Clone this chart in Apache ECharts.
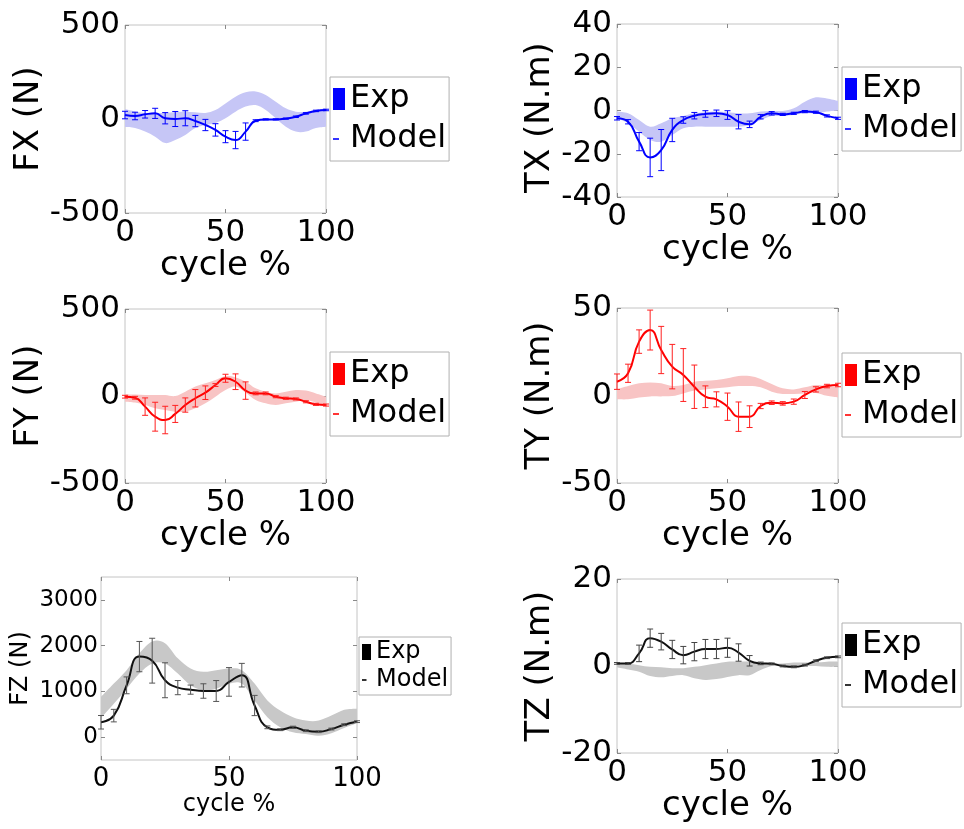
<!DOCTYPE html>
<html><head><meta charset="utf-8">
<script src="https://cdn.jsdelivr.net/npm/echarts@6/dist/echarts.min.js"></script>
<style>html,body{margin:0;padding:0;background:#fff}#c{width:964px;height:829px}</style>
</head><body><div id="c"></div><script>
// ---------- DATA ----------
const cyclePct = [0,5,10,15,20,25,30,35,40,45,50,55,60,65,70,75,80,85,90,95,100];
const xTicks = [0, 50, 100];

// FX (N)
const fxModel = [21,16,25,30,4,0,4,-11,-32,-58,-94,-112,-67,-9,-2,-2,2,12,30,43,48];
const fxErr   = [20,20,20,27,30,40,40,30,30,33,32,46,46,5,3,3,3,4,4,4,4];
const fxExpUpper = [53,40,32,32,32,37,39,36,32,48,83,119,142,146,128,92,57,39,39,48,57];
const fxExpLower = [-43,-48,-67,-94,-128,-112,-85,-48,-32,-21,4,39,66,74,48,4,-41,-67,-67,-48,-41];

// TX (N.m)
const txModel = [-3.6,-5.2,-14.4,-21.7,-18.3,-9.0,-4.4,-2.4,-1.6,-1.3,-2.1,-5.2,-6.4,-2.9,-1.3,-1.8,-1.3,-0.5,-0.8,-2.5,-3.6];
const txErr   = [0.8,1,4.2,8.9,9.5,5.4,1.5,1.5,1.5,1.5,2,3.3,1.5,1,0.8,0.5,0.5,0.5,0.5,0.5,0.5];
const txExpUpper = [-0.5,-1.3,-4.4,-7.5,-5.9,-3.6,-2.5,-1.3,-0.8,-0.5,-0.8,-1.3,-1.3,-0.5,-0.2,-0.2,1.0,4.1,6.1,5.6,4.5];
const txExpLower = [-3.6,-5.9,-9.8,-13.6,-14.4,-11.3,-8.2,-7.5,-7.5,-7.5,-7.5,-7.5,-6.7,-4.4,-2.5,-2.5,-2.1,-1.3,-1.3,-0.5,0];

// FY (N)
const fyModel = [-4,-10,-61,-119,-138,-103,-52,-13,19,63,102,82,31,15,15,-4,-13,-17,-33,-48,-52];
const fyErr   = [8,8,50,83,79,49,41,50,39,8,23,45,50,8,8,6,6,6,6,6,6];
const fyExpUpper = [10,8,6,6,6,0,25,54,73,92,115,107,82,44,25,15,25,34,31,15,-4];
const fyExpLower = [-33,-38,-52,-71,-80,-90,-90,-71,-42,-4,34,54,19,-23,-42,-52,-42,-33,-23,-38,-57];

// TY (N.m)
const tyModel = [7.9,12.7,30.8,37.4,26,16.5,11.7,5.0,-0.7,-2.2,-6.4,-12.1,-12.1,-6.0,-4.1,-4.5,-3.5,0.3,3.5,5.4,6.0];
const tyErr   = [4.4,5.2,6.7,11.4,13.5,12.7,15.1,12.4,6.2,4.3,7.8,8.4,6.2,1.5,1,1,1.5,2,1.5,1,1];
const tyExpUpper = [3.5,5.4,7.0,7.4,7.0,5.4,6.0,7.9,8.5,8.9,9.8,11.1,11.1,9.5,6.6,4.1,3.5,4.7,6.0,5.4,4.7];
const tyExpLower = [-2.2,-2.2,-1.2,-0.5,-0.5,-0.3,1.2,2.8,3.5,4.1,4.7,5.4,5.4,4.7,2.2,0.9,0.9,1.2,1.5,-0.2,-1.2];

// FZ (N)
const fzModel = [325,470,1132,1760,1671,1243,1082,1038,1008,1008,1207,1354,691,214,162,214,140,118,177,272,338];
const fzErr   = [148,137,184,331,490,382,155,100,158,228,313,258,221,30,20,25,20,20,20,20,20];
const fzExpUpper = [880,1170,1464,1832,2090,2053,1722,1501,1428,1464,1501,1464,1170,801,581,435,361,361,470,596,618];
const fzExpLower = [420,728,1060,1390,1611,1611,1390,1132,1022,1060,1170,1170,801,435,214,104,66,29,87,200,302];
const fzTicks = [0, 1000, 2000, 3000];

// TZ (N.m)
const tzModel = [0.6,0.6,2.9,6.4,5.6,3.8,2.5,3.3,3.9,3.9,4.2,3.1,1.2,0.6,0.5,0,-0.2,0.2,1.2,1.9,2.1];
const tzErr   = [0.2,0.2,1.9,2.1,1.9,2.1,2.0,2.1,2.2,2.2,2.2,2.0,1.2,0.3,0.2,0.2,0.2,0.2,0.2,0.2,0.2];
const tzExpUpper = [0.8,0.5,0.2,-0.2,-0.3,-0.5,-0.5,-0.2,0.2,0.6,1.0,1.0,1.0,0.6,0.5,0.6,0.8,0.8,0.8,1.0,1.0];
const tzExpLower = [-0.3,-0.8,-1.3,-2.3,-2.6,-2.3,-2.1,-2.8,-3.2,-3.0,-2.5,-2.1,-2.1,-0.9,0,0,0,0,0,-0.2,-0.2];

// ---------- LAYOUT / STYLE ----------
const FONT = 'DejaVu Sans';
const big = {tick: 31, name: 34, legend: 32, iconW: 12, iconH: 22, xLabMargin: 4, nameGapX: 33};
const small = {tick: 23, xtick: 26, name: 24, legend: 24, iconW: 9, iconH: 16, xLabMargin: 6, nameGapX: 30};
const panels = [
  {id:'FX', yName:'FX (N)', model:fxModel, err:fxErr, up:fxExpUpper, lo:fxExpLower, yMin:-500, yMax:500, yInt:500,
   grid:{left:125, top:25, width:201, height:188}, legend:{left:330, top:77}, line:'#0000ff', errc:'#0000ff', band:'#c6c6f6', leg:'#0000ff', f:big, nameGapY:77, namePad:0},
  {id:'TX', yName:'TX (N.m)', model:txModel, err:txErr, up:txExpUpper, lo:txExpLower, yMin:-40, yMax:40, yInt:20,
   grid:{left:617, top:24, width:221, height:173}, legend:{left:842, top:67}, line:'#0000ff', errc:'#0000ff', band:'#c6c6f6', leg:'#0000ff', f:big, nameGapY:58, namePad:14},
  {id:'FY', yName:'FY (N)', model:fyModel, err:fyErr, up:fyExpUpper, lo:fyExpLower, yMin:-500, yMax:500, yInt:500,
   grid:{left:125, top:309, width:201, height:174}, legend:{left:330, top:352}, line:'#ff0000', errc:'#ff2020', band:'#f8c4c4', leg:'#ff0000', f:big, nameGapY:77, namePad:0},
  {id:'TY', yName:'TY (N.m)', model:tyModel, err:tyErr, up:tyExpUpper, lo:tyExpLower, yMin:-50, yMax:50, yInt:50,
   grid:{left:617, top:308, width:221, height:175}, legend:{left:842, top:353}, line:'#ff0000', errc:'#ff2020', band:'#f8c4c4', leg:'#ff0000', f:big, nameGapY:58, namePad:0},
  {id:'FZ', yName:'FZ (N)', model:fzModel, err:fzErr, up:fzExpUpper, lo:fzExpLower, yMin:-500, yMax:3500, yInt:500, yCustom: fzTicks,
   grid:{left:101, top:577, width:256, height:183}, legend:{left:359, top:637}, line:'#111111', errc:'#555555', band:'#c8c8c8', leg:'#000000', f:small, nameGapY:68, namePad:0},
  {id:'TZ', yName:'TZ (N.m)', model:tzModel, err:tzErr, up:tzExpUpper, lo:tzExpLower, yMin:-20, yMax:20, yInt:20,
   grid:{left:617, top:579, width:221, height:174}, legend:{left:842, top:623}, line:'#111111', errc:'#444444', band:'#c8c8c8', leg:'#000000', f:big, nameGapY:58, namePad:0}
];

// Catmull-Rom spline through pixel points -> cubic bezier path segments
function splineSegs(P) {
  let d = '';
  for (let k = 0; k < P.length - 1; k++) {
    const p0 = P[Math.max(k - 1, 0)], p1 = P[k], p2 = P[k + 1], p3 = P[Math.min(k + 2, P.length - 1)];
    const c1 = [p1[0] + (p2[0] - p0[0]) / 6, p1[1] + (p2[1] - p0[1]) / 6];
    const c2 = [p2[0] - (p3[0] - p1[0]) / 6, p2[1] - (p3[1] - p1[1]) / 6];
    d += ' C' + c1[0] + ',' + c1[1] + ' ' + c2[0] + ',' + c2[1] + ' ' + p2[0] + ',' + p2[1];
  }
  return d;
}

const grids = [], xAxes = [], yAxes = [], series = [], legends = [];
const tickStyle = {inside:true, length:4, lineStyle:{color:'#8a8a8a', width:1}};
const noLine = {show:false, onZero:false};

panels.forEach((p, i) => {
  const f = p.f;
  grids.push(Object.assign({show:true, borderColor:'#c4c4c4', borderWidth:1, backgroundColor:'#fff'}, p.grid));
  const xb = {type:'value', gridIndex:i, min:0, max:100, interval:50, splitLine:{show:false}};
  xAxes.push(Object.assign({}, xb, {position:'bottom', axisLine:noLine, axisTick:tickStyle,
    axisLabel:{fontFamily:FONT, fontSize:f.xtick || f.tick, color:'#000', margin:f.xLabMargin,
      formatter: v => xTicks.indexOf(v) >= 0 ? String(v) : ''},
    name:'cycle %', nameLocation:'middle', nameGap:f.nameGapX, nameTextStyle:{fontFamily:FONT, fontSize:f.name, color:'#000'}}));
  xAxes.push(Object.assign({}, xb, {position:'top', axisLine:noLine, axisTick:tickStyle, axisLabel:{show:false}}));
  const yb = {type:'value', gridIndex:i, min:p.yMin, max:p.yMax, interval:p.yInt, splitLine:{show:false}};
  const yLabel = {fontFamily:FONT, fontSize:f.tick, color:'#000', margin:p.id === 'FZ' ? 3 : 5};
  const yTick = Object.assign({}, tickStyle);
  if (p.yCustom) {
    yLabel.customValues = p.yCustom;
    yLabel.formatter = v => p.yCustom.indexOf(v) >= 0 ? String(v) : '';
    yTick.customValues = p.yCustom;
  }
  yAxes.push(Object.assign({}, yb, {position:'left', axisLine:noLine, axisTick:yTick, axisLabel:yLabel,
    name:p.yName, nameLocation:'middle', nameGap:p.nameGapY,
    nameTextStyle:{fontFamily:FONT, fontSize:f.name, color:'#000', padding:[0, p.namePad, 0, 0]}}));
  yAxes.push(Object.assign({}, yb, {position:'right', axisLine:noLine, axisTick:yTick, axisLabel:{show:false}}));

  const xi = 2*i, yi = 2*i;
  // Exp band (mean ± sd), drawn as one smooth filled region through the axis scales
  series.push({type:'custom', name:p.id+' Exp', xAxisIndex:xi, yAxisIndex:yi, clip:true, silent:true, z:2,
    itemStyle:{color:p.leg},
    encode:{x:0, y:[1,2]},
    data: cyclePct.map((x, k) => [x, p.lo[k], p.up[k]]),
    renderItem: (params, api) => {
      if (params.dataIndex !== 0) return null;
      const U = cyclePct.map((x, k) => api.coord([x, p.up[k]]));
      const L = cyclePct.map((x, k) => api.coord([x, p.lo[k]])).reverse();
      const d = 'M' + U[0][0] + ',' + U[0][1] + splineSegs(U) + ' L' + L[0][0] + ',' + L[0][1] + splineSegs(L) + ' Z';
      return {type:'path', shape:{pathData:d}, style:{fill:p.band, stroke:null}};
    }});
  // Model line
  series.push({type:'line', name:p.id+' Model', xAxisIndex:xi, yAxisIndex:yi, smooth:0.5, symbol:'none',
    lineStyle:{color:p.line, width:2}, itemStyle:{color:p.line}, z:4,
    data: cyclePct.map((x, k) => [x, p.model[k]])});
  // Error bars
  const ec = p.errc;
  series.push({type:'custom', name:p.id+' err', xAxisIndex:xi, yAxisIndex:yi, z:5,
    encode:{x:0, y:[1,2]},
    data: cyclePct.map((x, k) => [x, p.model[k] - p.err[k], p.model[k] + p.err[k]]),
    renderItem: (params, api) => {
      const x = api.value(0);
      const a = api.coord([x, api.value(1)]), b = api.coord([x, api.value(2)]);
      const w = 3, st = {stroke:ec, lineWidth:1};
      return {type:'group', children:[
        {type:'line', shape:{x1:a[0], y1:a[1], x2:b[0], y2:b[1]}, style:st},
        {type:'line', shape:{x1:a[0]-w, y1:a[1], x2:a[0]+w, y2:a[1]}, style:st},
        {type:'line', shape:{x1:b[0]-w, y1:b[1], x2:b[0]+w, y2:b[1]}, style:st}
      ]};
    }});
  // Legend
  const W = f.iconW, H = f.iconH;
  const rectIcon = `path://M0,0 L${W},0 L${W},${H} L0,${H} Z`;
  const dashIcon = `path://M0,0 M${W},${H} M0,${H/2-0.8} L${W/2},${H/2-0.8} L${W/2},${H/2+0.8} L0,${H/2+0.8} Z`;
  legends.push({left:p.legend.left, top:p.legend.top, orient:'vertical', selectedMode:false,
    backgroundColor:'#fff', borderColor:'#b0b0b0', borderWidth:1,
    padding: p.id === 'FZ' ? [3,3,3,3] : [6,3,6,3], itemGap: p.id === 'FZ' ? 4 : 8,
    itemWidth:W, itemHeight:H, symbolKeepAspect:false,
    textStyle:{fontFamily:FONT, fontSize:f.legend, color:'#000'},
    formatter: n => n.split(' ')[1],
    data:[{name:p.id+' Exp', icon:rectIcon, itemStyle:{color:p.leg, borderWidth:0, opacity:1}},
          {name:p.id+' Model', icon:dashIcon, itemStyle:{color:p.leg, borderWidth:0, opacity:1}}]});
});

const chart = echarts.init(document.getElementById('c'), null, {renderer:'canvas'});
chart.setOption({
  animation:false, backgroundColor:'#fff',
  grid:grids, xAxis:xAxes, yAxis:yAxes, legend:legends, series:series
});
</script></body></html>
